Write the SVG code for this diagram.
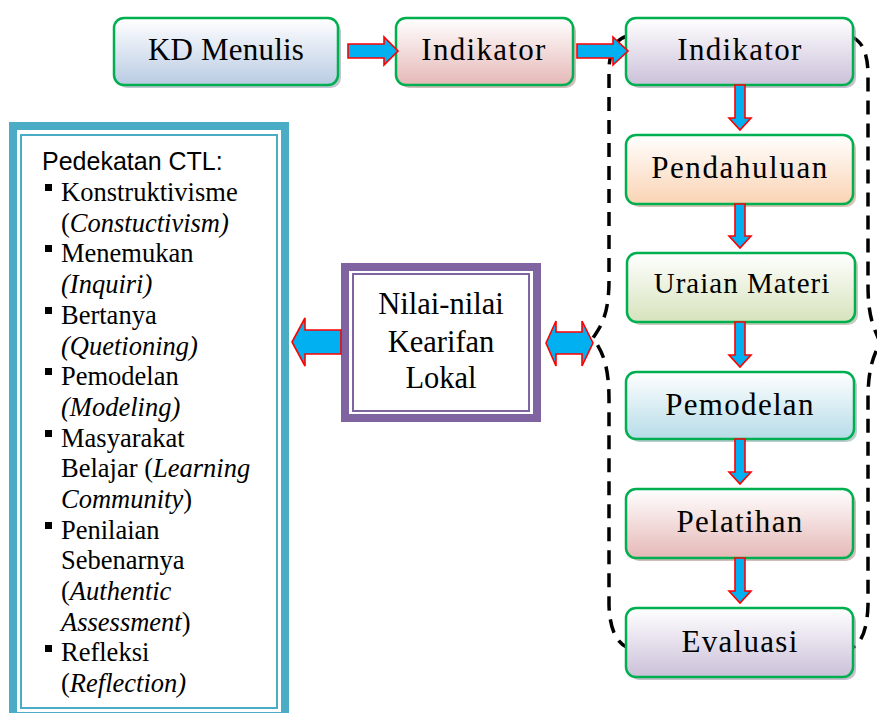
<svg xmlns="http://www.w3.org/2000/svg" width="877" height="713" viewBox="0 0 877 713">
<defs>
<linearGradient id="gBlue" x1="0" y1="0" x2="0" y2="1"><stop offset="0" stop-color="#ffffff"/><stop offset="1" stop-color="#b9cbe3"/></linearGradient>
<linearGradient id="gPink" x1="0" y1="0" x2="0" y2="1"><stop offset="0" stop-color="#ffffff"/><stop offset="1" stop-color="#e5b8b7"/></linearGradient>
<linearGradient id="gLav" x1="0" y1="0" x2="0" y2="1"><stop offset="0" stop-color="#ffffff"/><stop offset="1" stop-color="#cbc0d9"/></linearGradient>
<linearGradient id="gPeach" x1="0" y1="0" x2="0" y2="1"><stop offset="0" stop-color="#ffffff"/><stop offset="1" stop-color="#fad3b3"/></linearGradient>
<linearGradient id="gGreen" x1="0" y1="0" x2="0" y2="1"><stop offset="0" stop-color="#ffffff"/><stop offset="1" stop-color="#d6e3bc"/></linearGradient>
<linearGradient id="gAqua" x1="0" y1="0" x2="0" y2="1"><stop offset="0" stop-color="#ffffff"/><stop offset="1" stop-color="#b6dce7"/></linearGradient>
</defs>
<style>
.box{stroke:#00b050;stroke-width:2.5}
.shadow{opacity:0.55}
.lbl{font-size:31px;fill:#000;text-anchor:middle;letter-spacing:1.3px}
.arr{fill:#00b0f0;stroke:#ff0000;stroke-width:1.6;stroke-linejoin:miter}
.dash{fill:none;stroke:#000;stroke-width:3.5;stroke-dasharray:14 9}
.lt{font-size:26.5px;fill:#000}
.it{font-style:italic}
.hd{font-size:25px;fill:#000}
.cyan{fill:none;stroke:#4bacc6}
.purp{fill:none;stroke:#8064a2}
.ctr{font-size:30.5px;fill:#000;text-anchor:middle}
</style>
<rect width="877" height="713" fill="#ffffff"/>

<g id="brace">
<path class="dash" d="M628 36 Q609 40 609 72 L609 280 C609 315 601 326 593 338 C601 350 609 362 609 400 L609 605 Q610 640 628 648"/>
<path class="dash" d="M852 37 Q868 44 868 75 L868 285 C868 318 874 328 880 342 C874 356 868 366 868 400 L868 605 Q867 640 852 648"/>
</g>

<g id="ctl-panel">
<rect class="cyan" x="13" y="126" width="272" height="590" stroke-width="8"/>
<rect class="cyan" x="21" y="135" width="256" height="573" stroke-width="2"/>
<text class="hd" x="42" y="170" font-family="Liberation Sans">Pedekatan CTL:</text>
<g fill="#000">
<rect x="45" y="184" width="7" height="7"/>
<rect x="45" y="245" width="7" height="7"/>
<rect x="45" y="307" width="7" height="7"/>
<rect x="45" y="368" width="7" height="7"/>
<rect x="45" y="430" width="7" height="7"/>
<rect x="45" y="522" width="7" height="7"/>
<rect x="45" y="645" width="7" height="7"/>
</g>
<text class="lt" font-family="Liberation Serif" x="61" y="201">Konstruktivisme</text>
<text class="lt" font-family="Liberation Serif" x="61" y="232">(<tspan class="it">Constuctivism)</tspan></text>
<text class="lt" font-family="Liberation Serif" x="61" y="262">Menemukan</text>
<text class="lt it" font-family="Liberation Serif" x="61" y="293">(Inquiri)</text>
<text class="lt" font-family="Liberation Serif" x="61" y="324">Bertanya</text>
<text class="lt it" font-family="Liberation Serif" x="61" y="355">(Quetioning)</text>
<text class="lt" font-family="Liberation Serif" x="61" y="385">Pemodelan</text>
<text class="lt it" font-family="Liberation Serif" x="61" y="416">(Modeling)</text>
<text class="lt" font-family="Liberation Serif" x="61" y="447">Masyarakat</text>
<text class="lt" font-family="Liberation Serif" x="61" y="477">Belajar (<tspan class="it">Learning</tspan></text>
<text class="lt" font-family="Liberation Serif" x="61" y="508"><tspan class="it">Community</tspan>)</text>
<text class="lt" font-family="Liberation Serif" x="61" y="539">Penilaian</text>
<text class="lt" font-family="Liberation Serif" x="61" y="569">Sebenarnya</text>
<text class="lt" font-family="Liberation Serif" x="61" y="600">(<tspan class="it">Authentic</tspan></text>
<text class="lt" font-family="Liberation Serif" x="61" y="631"><tspan class="it">Assessment</tspan>)</text>
<text class="lt" font-family="Liberation Serif" x="61" y="661">Refleksi</text>
<text class="lt" font-family="Liberation Serif" x="61" y="692">(<tspan class="it">Reflection)</tspan></text>
</g>

<g id="nilai">
<rect class="purp" x="345" y="267" width="192" height="151" stroke-width="8"/>
<rect class="purp" x="353" y="274" width="176" height="137" stroke-width="2"/>
<text class="ctr" font-family="Liberation Serif" x="441" y="314">Nilai-nilai</text>
<text class="ctr" font-family="Liberation Serif" x="441" y="352">Kearifan</text>
<text class="ctr" font-family="Liberation Serif" x="441" y="388">Lokal</text>
</g>

<g id="kd-menulis">
<rect class="shadow" x="117" y="21" width="224" height="67" rx="10" fill="#8a98ad"/>
<rect class="box" x="114" y="18" width="224" height="67" rx="10" fill="url(#gBlue)"/>
<text class="lbl" font-family="Liberation Serif" x="226" y="60" style="letter-spacing:0.2px">KD Menulis</text>
</g>
<g id="indikator-1">
<rect class="shadow" x="399" y="21" width="177" height="67" rx="10" fill="#a98584"/>
<rect class="box" x="396" y="18" width="177" height="67" rx="10" fill="url(#gPink)"/>
<text class="lbl" font-family="Liberation Serif" x="484" y="60">Indikator</text>
</g>
<g id="indikator-2">
<rect class="shadow" x="629" y="21" width="227" height="67" rx="10" fill="#958ca3"/>
<rect class="box" x="626" y="18" width="227" height="67" rx="10" fill="url(#gLav)"/>
<text class="lbl" font-family="Liberation Serif" x="740" y="60">Indikator</text>
</g>
<g id="pendahuluan">
<rect class="shadow" x="629" y="138" width="227" height="69" rx="10" fill="#b89578"/>
<rect class="box" x="626" y="135" width="227" height="69" rx="10" fill="url(#gPeach)"/>
<text class="lbl" font-family="Liberation Serif" x="740" y="178" style="letter-spacing:1.6px">Pendahuluan</text>
</g>
<g id="uraian-materi">
<rect class="shadow" x="630" y="256" width="228" height="69" rx="10" fill="#9ba386"/>
<rect class="box" x="627" y="253" width="228" height="69" rx="10" fill="url(#gGreen)"/>
<text class="lbl" font-family="Liberation Serif" x="742" y="293" style="font-size:29px;letter-spacing:1px">Uraian Materi</text>
</g>
<g id="pemodelan">
<rect class="shadow" x="629" y="375" width="228" height="67" rx="10" fill="#85a2ab"/>
<rect class="box" x="626" y="372" width="228" height="67" rx="10" fill="url(#gAqua)"/>
<text class="lbl" font-family="Liberation Serif" x="740" y="415">Pemodelan</text>
</g>
<g id="pelatihan">
<rect class="shadow" x="629" y="492" width="227" height="69" rx="10" fill="#a98584"/>
<rect class="box" x="626" y="489" width="227" height="69" rx="10" fill="url(#gPink)"/>
<text class="lbl" font-family="Liberation Serif" x="740" y="532">Pelatihan</text>
</g>
<g id="evaluasi">
<rect class="shadow" x="629" y="611" width="227" height="69" rx="10" fill="#958ca3"/>
<rect class="box" x="626" y="608" width="227" height="69" rx="10" fill="url(#gLav)"/>
<text class="lbl" font-family="Liberation Serif" x="740" y="652">Evaluasi</text>
</g>

<g id="connectors">
<polygon class="arr" points="348,44 384,44 384,37 398,51 384,65 384,58 348,58"/>
<polygon class="arr" points="577,44 613,44 613,37 628,51 613,65 613,58 577,58"/>
<polygon class="arr" points="735,85 745,85 745,118 751,118 740,130 729,118 735,118"/>
<polygon class="arr" points="735,204 745,204 745,236 751,236 740,248 729,236 735,236"/>
<polygon class="arr" points="735,322 745,322 745,355 751,355 740,367 729,355 735,355"/>
<polygon class="arr" points="735,439 745,439 745,472 751,472 740,484 729,472 735,472"/>
<polygon class="arr" points="735,558 745,558 745,591 751,591 740,603 729,591 735,591"/>
<polygon class="arr" points="341,330 305,330 305,318 292,342 305,366 305,354 341,354"/>
<polygon class="arr" points="546,343 556,321 556,332 582,332 582,321 593,343 582,366 582,354 556,354 556,366"/>
</g>
</svg>
